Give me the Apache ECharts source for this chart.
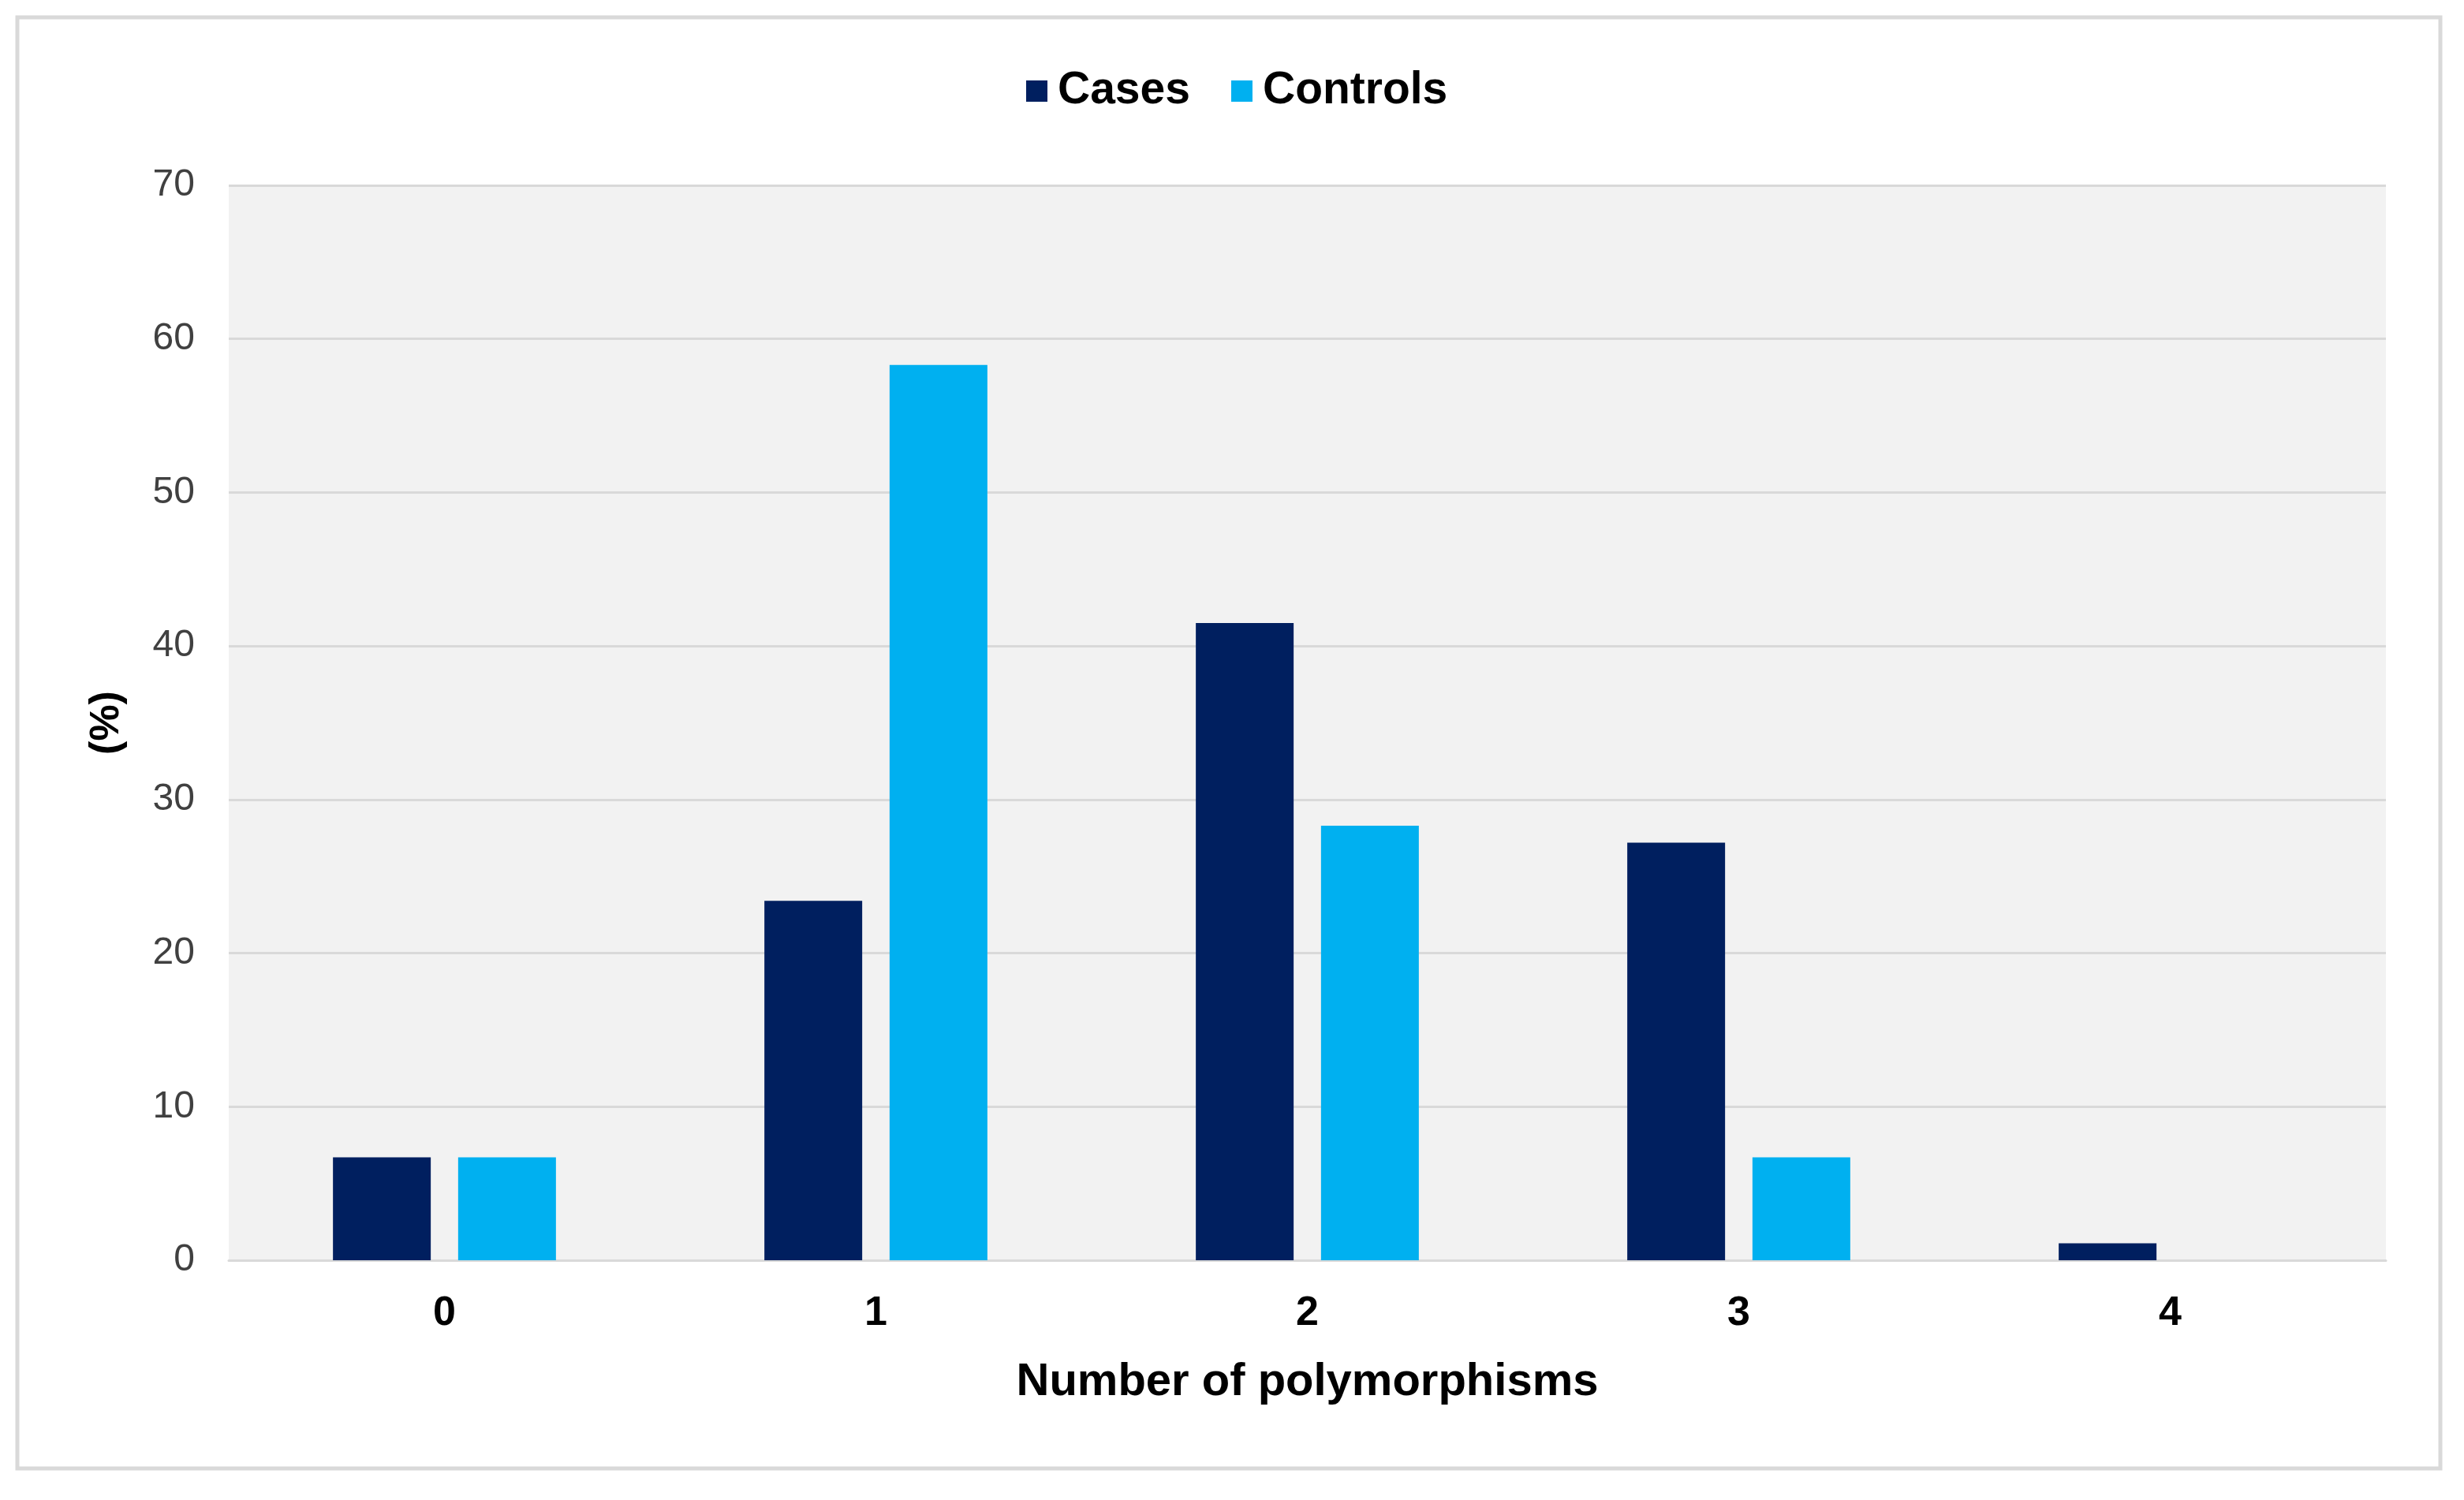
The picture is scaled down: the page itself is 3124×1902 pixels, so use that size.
<!DOCTYPE html>
<html>
<head>
<meta charset="utf-8">
<script src="https://cdn.jsdelivr.net/npm/echarts@6/dist/echarts.min.js"></script>
<style>
  html, body { margin: 0; padding: 0; background: #ffffff; }
  #chart { width: 3124px; height: 1902px; }
</style>
</head>
<body>
<div id="chart"></div>
<script>
const categories = ['0', '1', '2', '3', '4'];
const seriesNames = ['Cases', 'Controls'];
const casesValues = [6.7, 23.4, 41.5, 27.2, 1.1];
const controlsValues = [6.7, 58.3, 28.3, 6.7, 0];
const yTicks = { min: 0, max: 70, interval: 10 };

const FONT = "'Liberation Sans', Arial, sans-serif";
const chart = echarts.init(document.getElementById('chart'), null, { renderer: 'canvas' });

chart.setOption({
  animation: false,
  backgroundColor: '#ffffff',
  graphic: [{
    type: 'rect',
    shape: { x: 22, y: 22, width: 3072, height: 1840 },
    style: { fill: 'none', stroke: '#d9d9d9', lineWidth: 5 },
    z: -10
  }],
  legend: {
    left: 1296,
    top: 82,
    itemWidth: 27,
    itemHeight: 27,
    itemGap: 52,
    icon: 'rect',
    textStyle: { fontFamily: FONT, fontWeight: 'bold', fontSize: 57, color: '#000000', padding: [0, 0, 0, 8] },
    data: seriesNames
  },
  grid: {
    left: 290, right: 99, top: 235, bottom: 304,
    show: true, backgroundColor: '#f2f2f2', borderWidth: 0,
    containLabel: false
  },
  xAxis: {
    type: 'category',
    data: categories,
    name: 'Number of polymorphisms',
    nameLocation: 'middle',
    nameGap: 126,
    nameTextStyle: { fontFamily: FONT, fontWeight: 'bold', fontSize: 58, color: '#000000' },
    axisLine: { show: true, lineStyle: { color: '#d9d9d9', width: 3 } },
    axisTick: { show: false },
    axisLabel: { fontFamily: FONT, fontWeight: 'bold', fontSize: 52, color: '#000000', margin: 42 }
  },
  yAxis: {
    type: 'value',
    min: yTicks.min, max: yTicks.max, interval: yTicks.interval,
    name: '(%)',
    nameLocation: 'middle',
    nameGap: 128,
    nameRotate: 90,
    nameTextStyle: { fontFamily: FONT, fontWeight: 'bold', fontSize: 52, color: '#000000' },
    axisLine: { show: false },
    axisTick: { show: false },
    axisLabel: { fontFamily: FONT, fontSize: 48, color: '#404040', margin: 43 },
    splitLine: { show: true, lineStyle: { color: '#d9d9d9', width: 3 } }
  },
  series: [
    {
      name: seriesNames[0], type: 'bar', data: casesValues,
      barWidth: 124, barGap: '28%',
      itemStyle: { color: '#001f5f' }
    },
    {
      name: seriesNames[1], type: 'bar', data: controlsValues,
      barWidth: 124, barGap: '28%',
      itemStyle: { color: '#00b0f0' }
    }
  ]
});
</script>
</body>
</html>
